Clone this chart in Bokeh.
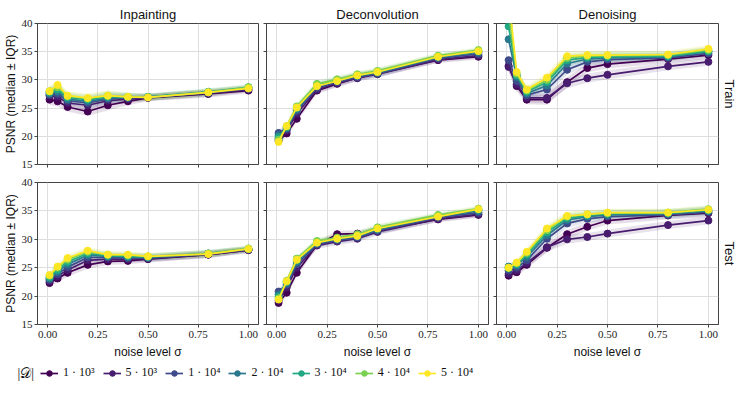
from bokeh.plotting import figure
from bokeh.layouts import column, row
from bokeh.models import (ColumnDataSource, FixedTicker, Legend, LegendItem, Title,
                          Label, Range1d, PrintfTickFormatter)
from bokeh.embed import file_html
from bokeh.resources import INLINE

# ---------------- data ----------------
noise = [0.01, 0.05, 0.1, 0.2, 0.3, 0.4, 0.5, 0.8, 1.0]
sizes = ["1 · 10³", "5 · 10³", "1 · 10⁴", "2 · 10⁴", "3 · 10⁴", "4 · 10⁴", "5 · 10⁴"]
colors = ["#440154", "#481c6e", "#3e4a89", "#2a788e", "#22a884", "#7ad151", "#fde725"]
tasks = ["Inpainting", "Deconvolution", "Denoising"]
splits = ["Train", "Test"]
y_ticks = [15, 20, 25, 30, 35, 40]
x_ticks = [0.0, 0.25, 0.5, 0.75, 1.0]

inpainting_train = [
    [26.5, 26.2, 25.2, 24.4, 25.5, 26.2, 26.8, 27.5, 28.1],
    [27.2, 27.0, 25.9, 25.5, 26.3, 26.6, 26.9, 27.6, 28.3],
    [27.4, 27.5, 26.3, 25.9, 26.6, 26.8, 26.9, 27.7, 28.4],
    [27.6, 27.9, 26.6, 26.2, 26.8, 26.9, 27.0, 27.8, 28.6],
    [27.8, 28.3, 26.9, 26.5, 27.0, 27.0, 27.0, 27.9, 28.7],
    [28.0, 28.7, 27.1, 26.7, 27.2, 27.0, 26.9, 27.8, 28.7],
    [28.0, 29.1, 27.2, 26.8, 27.2, 27.0, 26.9, 27.8, 28.5],
]
inpainting_test = [
    [22.3, 23.1, 24.1, 25.5, 26.1, 26.2, 26.5, 27.3, 28.1],
    [22.6, 23.5, 24.6, 26.3, 26.5, 26.5, 26.6, 27.3, 28.1],
    [22.9, 23.9, 25.1, 26.8, 26.8, 26.7, 26.7, 27.4, 28.2],
    [23.1, 24.3, 25.6, 27.2, 27.0, 26.9, 26.8, 27.5, 28.3],
    [23.3, 24.6, 26.0, 27.5, 27.1, 27.0, 26.9, 27.5, 28.3],
    [23.6, 25.0, 26.4, 27.8, 27.3, 27.2, 27.0, 27.5, 28.4],
    [23.7, 25.2, 26.7, 28.0, 27.3, 27.3, 27.0, 27.4, 28.3],
]
deconvolution_train = [
    [19.2, 20.5, 23.1, 28.1, 29.3, 30.4, 31.1, 33.5, 34.1],
    [19.6, 21.0, 24.0, 28.3, 29.4, 30.3, 31.0, 33.6, 34.3],
    [20.6, 21.3, 24.5, 28.6, 29.6, 30.5, 31.1, 33.8, 34.6],
    [20.2, 21.5, 24.8, 28.9, 29.8, 30.7, 31.3, 34.0, 34.9],
    [19.8, 21.6, 25.0, 29.1, 29.9, 30.8, 31.4, 34.1, 35.1],
    [19.4, 21.8, 25.3, 29.3, 30.1, 31.0, 31.6, 34.3, 35.3],
    [19.0, 21.8, 25.1, 28.9, 29.8, 30.8, 31.4, 34.1, 35.1],
]
deconvolution_test = [
    [18.8, 20.6, 24.1, 29.0, 30.9, 31.0, 31.5, 33.5, 34.3],
    [19.2, 21.5, 25.0, 28.9, 29.6, 30.1, 31.3, 33.6, 34.4],
    [20.8, 22.0, 25.6, 29.1, 29.8, 30.3, 31.5, 33.8, 34.7],
    [20.3, 22.3, 26.0, 29.3, 30.0, 30.5, 31.7, 34.0, 35.0],
    [19.9, 22.5, 26.3, 29.5, 30.1, 30.7, 31.9, 34.1, 35.2],
    [19.6, 22.7, 26.6, 29.7, 30.3, 30.9, 32.1, 34.3, 35.4],
    [19.4, 22.6, 26.4, 29.4, 30.1, 30.6, 31.9, 34.0, 35.3],
]
denoising_train = [
    [32.5, 28.9, 26.5, 26.5, 29.6, 32.1, 32.8, 33.7, 34.4],
    [32.3, 29.2, 26.8, 26.8, 29.4, 30.3, 30.9, 32.4, 33.2],
    [33.5, 29.8, 27.3, 28.3, 31.8, 33.2, 33.6, 33.9, 34.7],
    [37.2, 30.5, 27.6, 29.0, 32.9, 33.7, 33.9, 34.1, 35.0],
    [39.5, 30.8, 27.9, 29.6, 33.5, 34.0, 34.1, 34.2, 35.1],
    [42.0, 31.1, 28.1, 30.0, 33.9, 34.2, 34.3, 34.4, 35.3],
    [45.0, 31.4, 28.3, 30.4, 34.2, 34.4, 34.4, 34.5, 35.5],
]
denoising_test = [
    [23.6, 24.2, 25.5, 28.5, 30.9, 32.2, 33.3, 34.2, 34.6],
    [23.9, 24.5, 25.8, 28.6, 30.0, 30.4, 31.0, 32.5, 33.3],
    [24.5, 25.0, 26.3, 30.1, 32.8, 33.6, 34.0, 34.3, 34.8],
    [25.2, 25.4, 26.9, 30.7, 33.4, 34.0, 34.3, 34.5, 35.0],
    [24.9, 25.6, 27.3, 31.2, 33.7, 34.2, 34.5, 34.6, 35.1],
    [25.0, 25.8, 27.6, 31.6, 34.0, 34.4, 34.6, 34.7, 35.3],
    [25.0, 25.9, 27.8, 31.9, 34.1, 34.4, 34.7, 34.7, 35.2],
]
# half inter-quartile range, per noise level
inpainting_train_iqr = [0.9, 0.9, 0.8, 0.8, 0.9, 0.7, 0.6, 0.6, 0.5]
inpainting_test_iqr = [0.7, 0.7, 0.7, 0.7, 0.6, 0.6, 0.6, 0.6, 0.5]
deconvolution_train_iqr = [0.6, 0.6, 0.6, 0.6, 0.6, 0.6, 0.6, 0.5, 0.5]
deconvolution_test_iqr = [0.6, 0.6, 0.6, 0.6, 0.6, 0.6, 0.6, 0.5, 0.5]
denoising_train_iqr = [1.0, 0.9, 0.8, 0.9, 0.9, 0.8, 0.8, 0.7, 0.7]
denoising_test_iqr = [0.6, 0.6, 0.7, 0.8, 0.8, 0.7, 0.7, 0.7, 0.7]

panels = {
    ("Train", "Inpainting"): (inpainting_train, inpainting_train_iqr),
    ("Train", "Deconvolution"): (deconvolution_train, deconvolution_train_iqr),
    ("Train", "Denoising"): (denoising_train, denoising_train_iqr),
    ("Test", "Inpainting"): (inpainting_test, inpainting_test_iqr),
    ("Test", "Deconvolution"): (deconvolution_test, deconvolution_test_iqr),
    ("Test", "Denoising"): (denoising_test, denoising_test_iqr),
}

# ---------------- styling ----------------
SANS = "Liberation Sans"
SERIF = "Liberation Serif"
EDGE = "#444444"
FRAME_W = [221, 222, 222]
FRAME_H = [141, 142]


def make_panel(r, c):
    split, task = splits[r], tasks[c]
    meds, half = panels[(split, task)]
    p = figure(
        frame_width=FRAME_W[c], frame_height=FRAME_H[r],
        x_range=Range1d(-0.05, 1.05), y_range=Range1d(15, 40),
        output_backend="svg", toolbar_location=None,
        min_border_left=34 if c == 0 else 4,
        min_border_right=4 if c < 2 else 20,
        min_border_top=23 if r == 0 else 9,
        min_border_bottom=9 if r == 0 else 36,
        background_fill_color="white", border_fill_color="white",
    )
    p.outline_line_color = EDGE
    p.outline_line_width = 1
    for ax in (p.xaxis[0], p.yaxis[0]):
        ax.axis_line_color = EDGE
        ax.major_tick_line_color = EDGE
        ax.major_tick_in = 0
        ax.major_tick_out = 3
        ax.minor_tick_line_color = None
        ax.major_label_text_font = SERIF
        ax.major_label_text_font_size = "11px"
        ax.major_label_text_color = "#222222"
        ax.major_label_standoff = 2
        ax.axis_label_text_font = SANS
        ax.axis_label_text_font_style = "normal"
        ax.axis_label_text_font_size = "12px"
        ax.axis_label_text_color = "#111111"
        ax.axis_label_standoff = 1
    p.xaxis.major_label_standoff = 3
    p.xaxis.axis_label_standoff = 4
    p.xaxis.ticker = FixedTicker(ticks=x_ticks)
    p.xaxis.formatter = PrintfTickFormatter(format="%.2f")
    p.yaxis.ticker = FixedTicker(ticks=y_ticks)
    p.xgrid.ticker = FixedTicker(ticks=x_ticks)
    p.ygrid.ticker = FixedTicker(ticks=y_ticks)
    p.grid.grid_line_color = "#dedede"
    p.grid.grid_line_width = 1

    if r == 0:
        p.xaxis.major_label_overrides = {t: "" for t in x_ticks}
        p.xaxis.major_label_text_color = None
        p.xaxis.major_label_standoff = 0
        t = Title(text=task, align="center", text_font=SANS, text_font_size="13px",
                  text_font_style="normal", standoff=4, text_color="#111111")
        p.add_layout(t, "above")
    else:
        p.xaxis.axis_label = "noise level σ"
    if c == 0:
        p.yaxis.axis_label = "PSNR (median ± IQR)"
    else:
        p.yaxis.major_label_overrides = {t: "" for t in y_ticks}
        p.yaxis.major_label_text_color = None
        p.yaxis.major_label_standoff = 0
    if c == 2:
        t = Title(text=split, align="center", text_font=SANS, text_font_size="13px",
                  text_font_style="normal", standoff=6, text_color="#111111")
        p.add_layout(t, "right")

    # IQR bands
    for i, col in enumerate(colors):
        lo = [m - h for m, h in zip(meds[i], half)]
        hi = [m + h for m, h in zip(meds[i], half)]
        src = ColumnDataSource(dict(x=noise, lo=lo, hi=hi))
        p.varea(x="x", y1="lo", y2="hi", source=src, fill_color=col, fill_alpha=0.13)
    # median lines with markers
    for i, col in enumerate(colors):
        src = ColumnDataSource(dict(x=noise, y=meds[i]))
        p.line(x="x", y="y", source=src, line_color=col, line_width=1.7)
        p.scatter(x="x", y="y", source=src, size=7, fill_color=col, line_color=col)
    return p


grid_rows = []
for r in range(2):
    grid_rows.append(row([make_panel(r, c) for c in range(3)], spacing=0))

# ---------------- legend strip ----------------
lg = figure(width=732, height=36, output_backend="svg", toolbar_location=None,
            x_range=Range1d(0, 1), y_range=Range1d(0, 1),
            min_border=0, min_border_left=0, min_border_right=0,
            min_border_top=0, min_border_bottom=0)
lg.axis.visible = False
lg.grid.visible = False
lg.outline_line_color = None
items = []
for lab, col in zip(sizes, colors):
    # points far outside the visible range: only the legend sample shows
    src = ColumnDataSource(dict(x=[5.0, 6.0], y=[5.0, 5.0]))
    lr = lg.line(x="x", y="y", source=src, line_color=col, line_width=1.7)
    sr = lg.scatter(x="x", y="y", source=src, size=6, fill_color=col, line_color=col)
    items.append(LegendItem(label=lab, renderers=[lr, sr]))
legend = Legend(items=items, orientation="horizontal", location=(40, 17),
                border_line_alpha=0, background_fill_alpha=0,
                label_text_font=SERIF, label_text_font_size="12px",
                label_text_color="#111111",
                glyph_width=18, glyph_height=14, label_standoff=5, spacing=8,
                padding=0, margin=0)
lg.add_layout(legend, "center")
lg.add_layout(Label(x=17, y=17, x_units="screen", y_units="screen", text="|𝒟|",
                    text_font=SERIF, text_font_size="14px", text_color="#111111"))

layout = column(grid_rows + [lg], spacing=0)

open("out.html", "w").write(file_html(layout, INLINE))
